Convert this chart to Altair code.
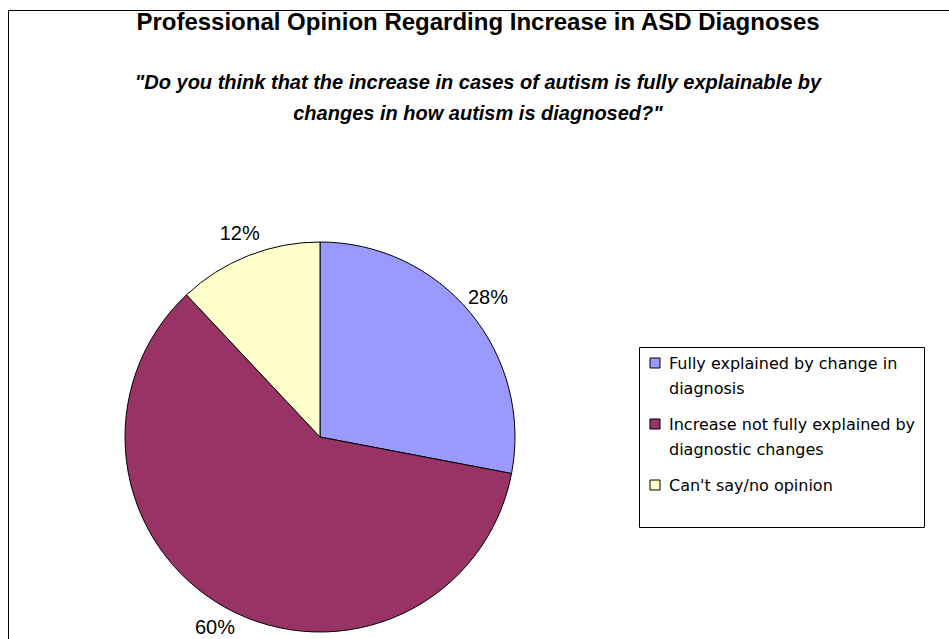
import json
import altair as alt
import pandas as pd

# Survey answers, in the order the slices run clockwise from 12 o'clock
categories = [
    "Fully explained by change in diagnosis",
    "Increase not fully explained by diagnostic changes",
    "Can't say/no opinion",
]
shares = [28, 60, 12]
colors = ["#9999FF", "#993366", "#FFFFCC"]

# How each legend entry wraps onto lines (trailing blank line leaves room at the box bottom)
legend_lines = [
    ["Fully explained by change in", "diagnosis"],
    ["Increase not fully explained by", "diagnostic changes"],
    ["Can't say/no opinion", ""],
]

title_text = "Professional Opinion Regarding Increase in ASD Diagnoses"
question_lines = [
    "\"Do you think that the increase in cases of autism is fully explainable by",
    "changes in how autism is diagnosed?\"",
]

FONT = "Liberation Sans"
LEGEND_FONT = "DejaVu Sans"

df = pd.DataFrame({"category": categories, "share": shares, "order": list(range(len(categories)))})
df["label"] = df["share"].astype(str) + "%"

# Legend label expression that swaps each category name for its wrapped lines
label_expr = ""
for cat, lines in zip(categories, legend_lines):
    label_expr += f"datum.label === {json.dumps(cat)} ? {json.dumps(lines)} : "
label_expr += "datum.label"

cx, cy = 312, 427  # pie centre inside the framed view

color = alt.Color(
    "category:N",
    scale=alt.Scale(domain=categories, range=colors),
    sort=categories,
    legend=alt.Legend(
        title=None,
        orient="none",
        legendX=631,
        legendY=337,
        direction="vertical",
        fillColor="white",
        strokeColor="black",
        padding=8,
        symbolType="square",
        symbolSize=100,
        symbolStrokeColor="black",
        symbolStrokeWidth=1,
        labelFont=LEGEND_FONT,
        labelFontSize=16,
        labelColor="black",
        labelLimit=400,
        labelOffset=6,
        labelBaseline="top",
        rowPadding=19,
        labelExpr=label_expr,
    ),
)

base = alt.Chart(df)

pie = base.mark_arc(
    outerRadius=195, stroke="black", strokeWidth=1, x=cx, y=cy
).encode(
    theta=alt.Theta("share:Q", stack=True),
    order=alt.Order("order:Q"),
    color=color,
)

pct = base.mark_text(
    radius=218, x=cx, y=cy, font=FONT, fontSize=20, color="black"
).encode(
    theta=alt.Theta("share:Q", stack=True),
    order=alt.Order("order:Q"),
    text="label:N",
)

one_row = alt.Data(values=[{}])

heading = alt.Chart(one_row).mark_text(
    text=title_text, font=FONT, fontSize=24, fontWeight="bold", color="black",
    align="center", baseline="middle",
).encode(x=alt.value(470), y=alt.value(13))

question = alt.Chart(one_row).mark_text(
    text=question_lines, font=FONT, fontSize=20, fontWeight="bold", fontStyle="italic",
    color="black", align="center", baseline="middle", lineHeight=31.5,
).encode(x=alt.value(470), y=alt.value(72.5))

chart = (
    alt.layer(pie, pct, heading, question)
    .properties(
        width=941,
        height=629,
        autosize=alt.AutoSizeParams(type="none"),
        padding={"left": 8, "top": 10, "right": 0, "bottom": 0},
        background="white",
    )
    .configure(style={"guide-label": {"lineHeight": 24.5, "dy": -7}})
    .configure_view(stroke="black", strokeWidth=1)
)

chart.save("out.html", embed_options={"renderer": "svg", "actions": False})
